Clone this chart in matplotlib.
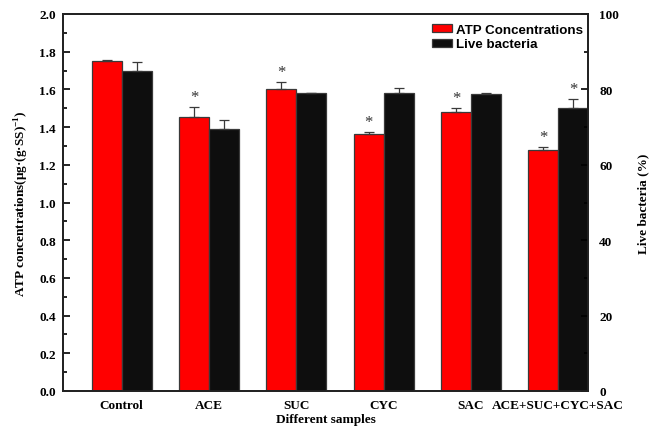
import matplotlib
matplotlib.use("Agg")
import matplotlib.pyplot as plt
import numpy as np
from matplotlib.ticker import MultipleLocator

categories = ["Control", "ACE", "SUC", "CYC", "SAC", "ACE+SUC+CYC+SAC"]
atp = [1.751, 1.455, 1.600, 1.363, 1.478, 1.278]
atp_err = [0.004, 0.050, 0.037, 0.012, 0.022, 0.015]
atp_sig = [False, True, True, True, True, True]
live = [84.8, 69.6, 79.0, 79.1, 78.8, 75.0]
live_err = [2.6, 2.4, 0.1, 1.2, 0.3, 2.5]
live_sig = [False, False, False, False, False, True]

serif = ["Liberation Serif", "DejaVu Serif"]
sans = ["Liberation Sans", "DejaVu Sans"]
plt.rcParams["font.family"] = serif
plt.rcParams["font.weight"] = "bold"
plt.rcParams["mathtext.fontset"] = "custom"
plt.rcParams["mathtext.bf"] = "Liberation Serif:bold"
plt.rcParams["mathtext.rm"] = "Liberation Serif:bold"

FS = 9.5

fig = plt.figure(figsize=(6.51, 4.31), dpi=100)
ax = fig.add_axes([63/651, 1-392/431, 525/651, 377/431])
ax2 = ax.twinx()

x = np.arange(len(categories))
w = 0.345
ec = "#3a3a3a"
b1 = ax.bar(x - w/2, atp, w, color="#ff0000", edgecolor=ec, linewidth=0.9,
            yerr=[np.zeros(len(atp)), atp_err], capsize=3.5,
            error_kw=dict(ecolor=ec, elinewidth=0.9, capthick=0.9), label="ATP Concentrations")
b2 = ax2.bar(x + w/2, live, w, color="#0e0e0e", edgecolor=ec, linewidth=0.9,
             yerr=[np.zeros(len(live)), live_err], capsize=3.5,
             error_kw=dict(ecolor=ec, elinewidth=0.9, capthick=0.9), label="Live bacteria")

for i in range(len(categories)):
    if atp_sig[i]:
        ax.text(x[i] - w/2, atp[i] + atp_err[i] + 0.012, "*", ha="center", va="bottom",
                fontsize=12, color="#333333", fontweight="normal")
    if live_sig[i]:
        ax2.text(x[i] + w/2, live[i] + live_err[i] + 0.6, "*", ha="center", va="bottom",
                 fontsize=12, color="#333333", fontweight="normal")

ax.set_xlim(-0.672, 5.34)
ax.set_ylim(0, 2.0)
ax2.set_ylim(0, 100)
ax.set_xticks(x)
ax.set_xticklabels(categories, fontsize=FS, fontweight="bold")
ax.tick_params(axis="x", length=0, pad=6)
ax.yaxis.set_major_locator(MultipleLocator(0.2))
ax.yaxis.set_minor_locator(MultipleLocator(0.1))
ax.tick_params(axis="y", which="both", direction="in", labelsize=FS, width=1.2, pad=5)
ax.tick_params(axis="y", which="major", length=5)
ax.tick_params(axis="y", which="minor", length=3)
ax.set_yticks(np.arange(0, 2.01, 0.2))
ax.set_yticklabels([f"{v:.1f}" for v in np.arange(0, 2.01, 0.2)], fontweight="bold")
ax2.yaxis.set_major_locator(MultipleLocator(20))
ax2.yaxis.set_minor_locator(MultipleLocator(10))
ax2.tick_params(axis="y", which="both", direction="in", labelsize=FS, width=1.2, pad=8)
ax2.tick_params(axis="y", which="major", length=5)
ax2.tick_params(axis="y", which="minor", length=3)
for t in ax2.get_yticklabels():
    t.set_fontweight("bold")

for a in (ax, ax2):
    for s in a.spines.values():
        s.set_linewidth(1.3)
        s.set_color("#222222")

ax.set_xlabel("Different samples", fontsize=FS, fontweight="bold", labelpad=1)
ax.set_ylabel(r"ATP concentrations(μg·(g·SS)$^{\mathbf{-1}}$)", fontsize=FS, fontweight="bold", labelpad=6)
ax2.set_ylabel("Live bacteria (%)", fontsize=FS, fontweight="bold", labelpad=13)

leg = ax2.legend([b1, b2], ["ATP Concentrations", "Live bacteria"], loc="upper right",
                 frameon=False, prop=dict(family=sans, weight="bold", size=9.6),
                 handlelength=1.5, handleheight=0.6, handletextpad=0.3, labelspacing=0.2,
                 borderpad=0.2, borderaxespad=0.0, bbox_to_anchor=(0.996, 0.981))

fig.savefig("out.png", dpi=100)
